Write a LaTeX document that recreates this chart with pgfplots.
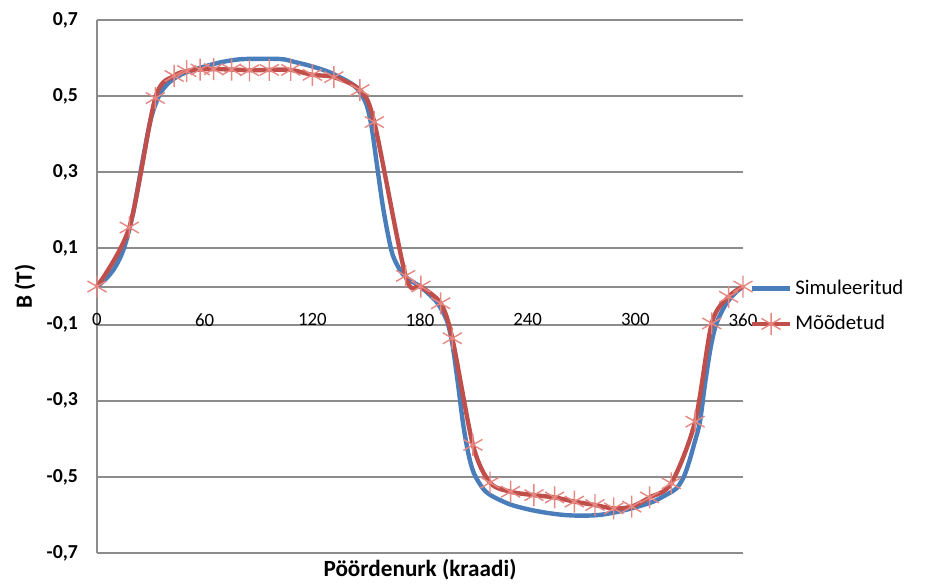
\documentclass[border=0pt]{standalone}
\usepackage{pgfplots}
\pgfplotsset{compat=1.18}
\usepackage{fontspec}
\setmainfont{Carlito}
\definecolor{simblue}{RGB}{74,126,187}
\definecolor{measred}{RGB}{192,78,74}
\definecolor{markpink}{RGB}{230,135,130}
\definecolor{gridgray}{RGB}{140,140,140}
\begin{document}
\begin{tikzpicture}
\begin{axis}[
  scale only axis, width=323pt, height=266.5pt,
  xmin=0, xmax=360, ymin=-0.7, ymax=0.7,
  clip=false,
  axis x line=middle, axis y line=left,
  axis line style={-, draw=gridgray, line width=1pt},
  hide obscured x ticks=false,
  xtick={0,60,120,180,240,300,360},
  xticklabels={0,60,120,180,240,300,360},
  ytick={-0.7,-0.5,-0.3,-0.1,0.1,0.3,0.5,0.7},
  yticklabels={{-0,7},{-0,5},{-0,3},{-0,1},{0,1},{0,3},{0,5},{0,7}},
  ymajorgrids, grid style={draw=gridgray, line width=1pt},
  major tick length=0pt,
  xticklabel style={font=\fontsize{9.4}{11}\selectfont, yshift=-10pt},
  yticklabel style={font=\bfseries\fontsize{9.9}{11}\selectfont, xshift=-6pt},
  every axis x label/.style={at={(axis description cs:0.5,-0.032)}, anchor=center},
  every axis y label/.style={at={(axis description cs:-0.1115,0.5)}, rotate=90, anchor=center},
  xlabel={\bfseries\fontsize{11.6}{13}\selectfont Pöördenurk (kraadi)},
  ylabel={\bfseries\fontsize{11.6}{13}\selectfont B (T)},
  legend style={at={(1.010,0.463)}, anchor=west, draw=none, fill=none,
    font=\fontsize{10.4}{12}\selectfont, row sep=6pt, inner sep=0pt,
    nodes={inner sep=1.5pt}},
  legend cell align=left,
  legend image code/.code={\draw[mark repeat=2,mark phase=2,#1] plot coordinates {(0pt,0pt) (9.5pt,0pt) (19pt,0pt)};},
]
\addplot[simblue, line width=2.2pt, smooth] coordinates {
(0,0) (5,0.02) (10,0.05) (15,0.1) (20,0.19) (25,0.32) (30,0.44) (35,0.505)
(40,0.535) (45,0.552) (50,0.563) (60,0.578) (70,0.59) (80,0.597) (90,0.598)
(100,0.598) (105,0.596) (110,0.59) (120,0.578) (130,0.562) (140,0.538)
(145,0.52) (150,0.48) (153,0.42) (156,0.32) (159,0.22) (162,0.14) (165,0.08)
(170,0.035) (175,0.015) (180,0) (185,-0.02) (190,-0.045) (195,-0.09)
(198,-0.15) (201,-0.25) (204,-0.36) (207,-0.44) (210,-0.49) (215,-0.53)
(220,-0.55) (230,-0.572) (240,-0.585) (250,-0.594) (260,-0.6) (270,-0.602)
(280,-0.6) (290,-0.592) (300,-0.58) (310,-0.565) (318,-0.545) (323,-0.53)
(327,-0.5) (330,-0.46) (333,-0.41) (336,-0.355) (339,-0.25) (342,-0.16)
(345,-0.1) (350,-0.05) (355,-0.02) (360,0)
};
\addlegendentry{Simuleeritud}
\addplot[only marks, forget plot, mark=asterisk, mark size=5.5pt,
  mark options={draw=markpink, line width=0.7pt}] coordinates {
(0,0) (18,0.155) (32.5,0.495) (43,0.553) (50,0.566) (57.5,0.57) (65,0.571)
(75,0.57) (85,0.568) (96,0.569) (108,0.569) (120,0.556) (132,0.55)
(146.5,0.516) (154.5,0.432) (172,0.028) (180.5,0) (191.5,-0.044)
(198,-0.136) (209.5,-0.416) (219,-0.515) (230.5,-0.539) (243.5,-0.548)
(255,-0.554) (266,-0.565) (277.5,-0.574) (288,-0.583) (298,-0.578)
(308,-0.554) (320,-0.517) (333.3,-0.355) (342.6,-0.097) (352,-0.027) (360,0)
};
\addplot[measred, line width=2.2pt, smooth, forget plot] coordinates {
(0,0) (18,0.155) (32.5,0.495) (43,0.553) (50,0.566) (57.5,0.57) (65,0.571)
(75,0.57) (85,0.568) (96,0.569) (108,0.569) (120,0.556) (132,0.55)
(146.5,0.516) (154.5,0.432) (172,0.028) (180.5,0) (191.5,-0.044)
(198,-0.136) (209.5,-0.416) (219,-0.515) (230.5,-0.539) (243.5,-0.548)
(255,-0.554) (266,-0.565) (277.5,-0.574) (288,-0.583) (298,-0.578)
(308,-0.554) (320,-0.517) (333.3,-0.355) (342.6,-0.097) (352,-0.027) (360,0)
};
\addlegendimage{measred, line width=2.2pt, mark=asterisk, mark size=5.5pt,
  mark options={draw=markpink, line width=0.7pt}}
\addlegendentry{Mõõdetud}
\end{axis}
\path (current axis.south west) ++(-48.5pt,-15pt) rectangle ++(474.5pt,291.5pt);
\end{tikzpicture}
\end{document}
